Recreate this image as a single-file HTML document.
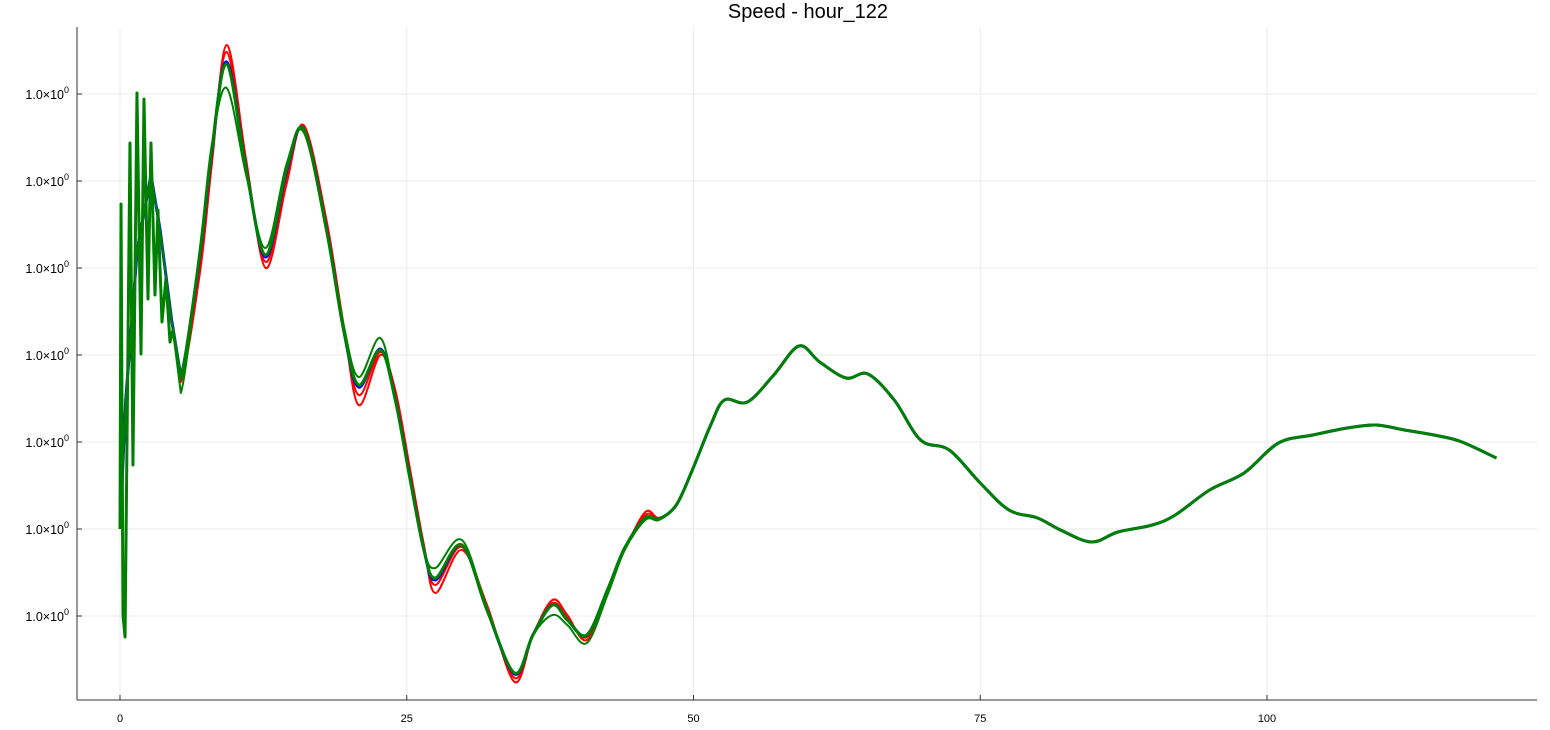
<!DOCTYPE html>
<html><head><meta charset="utf-8"><style>
body{margin:0;background:#fff}
svg{display:block;font-family:"Liberation Sans","DejaVu Sans",sans-serif}
</style></head><body>
<svg id="chart" width="1550" height="730">
<text x="808" y="18" text-anchor="middle" font-size="20">Speed - hour_122</text>
<g id="grid"></g>
<g id="series"></g>
<g id="axes"></g>
</svg>
<script>
const xTicks=[0,25,50,75,100];
const yTicks=[84,171,258,345,432,519,606];
const yTickLabel="1.0×10";
const noiseX=[0,0.09,0.26,0.44,0.87,1.13,1.48,1.83,2.09,2.44,2.7,3.05,3.31,3.66,4.0,4.36,4.62];
const noiseY=[171,496,85,63,557,235,607,346,601,401,557,405,490,378,421,358,370];
const startX=[0,0.5,1.5,2.7,3.5,4.5];
const startY=[171,300,450,525,470,380];
const midX=[5.3,7,8,9.3,11,12.7,14.5,16,18,19.5,20.8,22.7,24,25.3,26.5,27.5,29.8,32,34.4,36,37.7,39,40.7,42.5,44,45.8,47,48.5];
const mainY=[322,450,550,636,530,445,530,571,470,370,315,350,300,220,150,122,155,90,27,65,95,80,65,110,152,182,181,195];
const red1Y=[318,430,535,655,540,432,515,575,480,375,295,345,310,230,155,107,150,95,18,65,100,85,60,110,150,188,182,195];
const red2Y=[320,440,545,648,535,438,520,573,475,372,305,348,305,225,152,115,153,92,22,65,97,82,63,110,151,185,182,195];
const blueY=[324,448,548,638,531,443,528,571,471,370,313,351,301,221,150,120,155,90,26,65,95,80,65,110,152,182,181,195];
const green2Y=[307,455,555,612,525,452,535,568,470,375,323,362,300,220,150,132,160,92,27,65,85,75,57,105,150,180,180,195];
const tailX=[49.9,51.5,52.7,54.7,57,59.2,61,63.3,65.2,67.5,69.8,72.3,75,77.5,80,82,84.7,87,90,92,95,98,101,104,107,109.5,112,115,117,120];
const tailY=[230,275,300,298,325,354,338,322,326,300,260,250,217,190,182,170,158,168,175,185,210,227,257,265,272,275,270,264,258,242];

const NS="http://www.w3.org/2000/svg";
const X0=77,X1=1537,Y0=27,Y1=700;
function sx(x){return 120+x*11.47;}
function sy(v){return 700-v;}
function mk(tag,attrs,parent){const e=document.createElementNS(NS,tag);for(const k in attrs)e.setAttribute(k,attrs[k]);parent.appendChild(e);return e;}
const grid=document.getElementById('grid'),axes=document.getElementById('axes'),ser=document.getElementById('series');
xTicks.forEach(t=>{
  const l=mk('line',{x1:sx(t),x2:sx(t),y1:Y0,y2:Y1,stroke:'#ebebeb','stroke-width':1},grid);
  
  
  const tk=mk('line',{x1:sx(t),x2:sx(t),y1:Y1,y2:Y1-5,stroke:'#333'},axes);
  
  
  const tx=mk('text',{x:sx(t),y:722,'text-anchor':'middle','font-size':11},axes);
  tx.textContent=t;
  
  
});
yTicks.forEach(t=>{
  const l=mk('line',{x1:X0,x2:X1,y1:sy(t),y2:sy(t),stroke:'#ebebeb','stroke-width':1},grid);
  
  
  const tk=mk('line',{x1:X0,x2:X0+5,y1:sy(t),y2:sy(t),stroke:'#333'},axes);
  
  
  const tx=mk('text',{x:69,y:sy(t)+5,'text-anchor':'end','font-size':12.5},axes);
  tx.textContent=yTickLabel;
  const sup=mk('tspan',{dy:-6,'font-size':9},tx);
  sup.textContent='0';
  
  
});
const ax1=mk('line',{x1:X0,x2:X0,y1:Y0,y2:Y1,stroke:'#333','stroke-width':1},axes);


const ax2=mk('line',{x1:X0,x2:X1,y1:Y1,y2:Y1,stroke:'#333','stroke-width':1},axes);



function pathFor(xs,ys,nLin){
  const p=xs.map((x,i)=>[sx(x),sy(ys[i])]);
  let d='M'+p[0][0]+','+p[0][1];
  for(let i=0;i<p.length-1;i++){
    const a=p[Math.max(0,i-1)],b=p[i],c=p[i+1],e=p[Math.min(p.length-1,i+2)];
    if(i<nLin){d+=' L'+c[0]+','+c[1];continue;}
    const c1=[b[0]+(c[0]-a[0])/6,b[1]+(c[1]-a[1])/6],c2=[c[0]-(e[0]-b[0])/6,c[1]-(e[1]-b[1])/6];
    d+=' C'+c1[0]+','+c1[1]+' '+c2[0]+','+c2[1]+' '+c[0]+','+c[1];
  }
  return d;
}
function draw(name,color,w,hx,hy,ys){
  const xs=hx.concat(midX,tailX),yy=hy.concat(ys,tailY);
  const p=mk('path',{d:pathFor(xs,yy,hx.length),fill:'none',stroke:color,'stroke-width':w,'stroke-linejoin':'round'},ser);
  
  
}
draw('series-red-1','#ff0000',2,startX,startY,red1Y);
draw('series-red-2','#ff0000',2,startX,startY,red2Y);
draw('series-blue','#0000ff',3,startX,startY,blueY);
draw('series-green-2','#008000',2,startX,startY,green2Y);
draw('series-green-main','#008000',3,noiseX,noiseY,mainY);
</script>
</body></html>
